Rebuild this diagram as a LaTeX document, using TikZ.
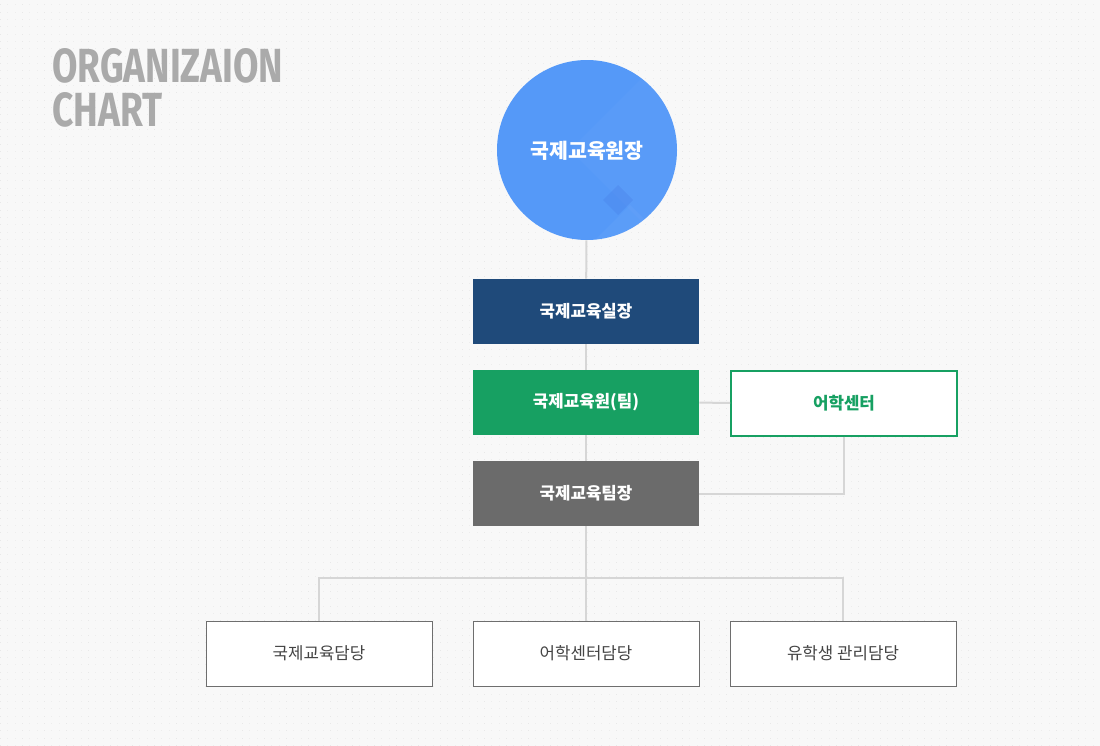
\documentclass[tikz,border=0pt]{standalone}
\usepackage{fontspec}
\setmainfont{Fira Sans}
\newfontfamily\kr{Noto Sans CJK KR}
\usetikzlibrary{patterns}
\pgfdeclarepatternformonly{bgdots}{\pgfqpoint{0pt}{0pt}}{\pgfqpoint{0.8pt}{0.8pt}}{\pgfqpoint{5.5pt}{5.5pt}}{\pgfpathrectangle{\pgfpointorigin}{\pgfqpoint{0.8pt}{0.8pt}}\pgfusepath{fill}}
\definecolor{bgc}{HTML}{F8F8F8}
\definecolor{dotc}{HTML}{E8E8E8}
\definecolor{ttlc}{HTML}{AAAAAA}
\definecolor{circc}{HTML}{5599F8}
\definecolor{navy}{HTML}{1F4A7A}
\definecolor{grn}{HTML}{17A062}
\definecolor{gry}{HTML}{6B6B6B}
\definecolor{linec}{HTML}{D6D6D6}
\definecolor{bord}{HTML}{6E6E6E}
\definecolor{txtc}{HTML}{444444}
\tikzset{
  box/.style={rectangle, minimum width=169.5pt, minimum height=48.75pt, inner sep=0pt, font=\kr\fontsize{12.6pt}{14pt}\selectfont},
  filledbox/.style={box, fill=#1, text=white, font=\kr\bfseries\fontsize{12.6pt}{14pt}\selectfont},
  outbox/.style={box, fill=white, draw=grn, line width=1.5pt, text=grn, font=\kr\bfseries\fontsize{12.6pt}{14pt}\selectfont},
  leafbox/.style={box, fill=white, draw=bord, line width=0.75pt, text=txtc},
  conn/.style={draw=linec, line width=1.5pt},
}
\begin{document}
\begin{tikzpicture}[x=0.75pt,y=-0.75pt]
\fill[bgc] (0,0) rectangle (1100,746);
\fill[pattern=bgdots, pattern color=dotc] (0,0) rectangle (1100,746);
\useasboundingbox (0,0) rectangle (1100,746);

% title
\node[anchor=north west, inner sep=0pt, text=ttlc] (t1) at (52,48) {\resizebox{173.25pt}{25.5pt}{\bfseries ORGANIZAION}};
\node[anchor=north west, inner sep=0pt, text=ttlc] (t2) at (52,92) {\resizebox{82.5pt}{25.5pt}{\bfseries CHART}};

% circle
\node[circle, fill=circc, minimum size=135pt, inner sep=0pt] (c) at (587,150) {};
\begin{scope}
\clip (587,150) circle[radius=90];
\fill[white, opacity=0.025] (645,75) -- (720,150) -- (645,225) -- (570,150) -- cycle;
\fill[white, opacity=0.04] (630,205) -- (665,240) -- (630,275) -- (595,240) -- cycle;
\fill[blue!60!black, opacity=0.06] (618,185) -- (633,200) -- (618,215) -- (603,200) -- cycle;
\end{scope}
\node[text=white, font=\kr\bfseries\fontsize{15.4pt}{17pt}\selectfont] (ct) at (587,151) {국제교육원장};

% boxes
\node[filledbox=navy] (b1) at (586,311.5) {국제교육실장};
\node[filledbox=grn] (b2) at (586,402.5) {국제교육원(팀)};
\node[outbox] (b3) at (844,403) {어학센터};
\node[filledbox=gry] (b4) at (586,493.5) {국제교육팀장};
\node[leafbox] (d1) at (319,653.5) {국제교육담당};
\node[leafbox] (d2) at (586,653.5) {어학센터담당};
\node[leafbox] (d3) at (843,653.5) {유학생 관리담당};

% connectors
\path[conn] (c) -- (b1);
\path[conn] (b1) -- (b2);
\path[conn] (b2) -- (b3);
\path[conn] (b2) -- (b4);
\path[conn] (b3.south) |- (b4.east);
\coordinate (j) at (586,578);
\path[conn] (b4.south) -- (d2.north);
\path[conn] (d1.north) |- (j) -| (d3.north);
\end{tikzpicture}
\end{document}
